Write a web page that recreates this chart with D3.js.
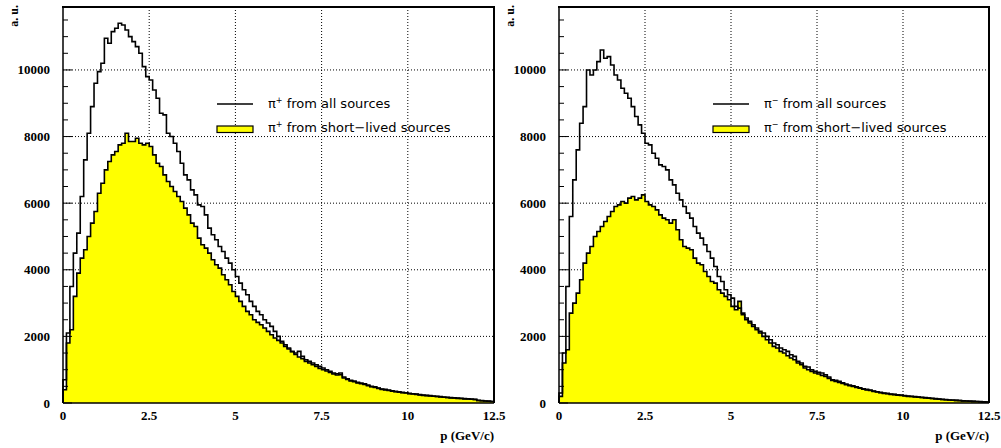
<!DOCTYPE html>
<html>
<head>
<meta charset="utf-8">
<script src="https://cdn.jsdelivr.net/npm/d3@7"></script>
<style>
  body { margin: 0; background: #fff; }
  svg { display: block; }
</style>
</head>
<body>
<div id="content"></div>
<script>
// momentum bins: 125 bins of 0.1 GeV/c from 0 to 12.5
const binWidth = 0.1;
const pMax = 12.5;

// pi+ (left pad)
const piPlusAll = [
  700, 2100, 3500, 4500, 5100, 6200, 7300, 8100, 8900, 9600,
  9950, 10200, 10950, 10800, 11150, 11250, 11400, 11350, 11200, 11000,
  10850, 10700, 10500, 10100, 9800, 9700, 9400, 9150, 8700, 8650,
  8100, 8000, 7800, 7550, 7200, 6850, 6700, 6400, 6250, 5950,
  5900, 5650, 5250, 5050, 4900, 4700, 4550, 4350, 4200, 4000,
  3800, 3600, 3400, 3250, 3050, 2900, 2750, 2650, 2500, 2400,
  2300, 2150, 2000, 1850, 1750, 1650, 1550, 1500, 1550, 1400,
  1300, 1250, 1200, 1150, 1100, 1050, 1000, 950, 900, 880,
  900, 780, 730, 680, 660, 620, 600, 580, 540, 500,
  490, 450, 420, 410, 390, 370, 350, 340, 320, 310,
  290, 280, 270, 250, 240, 230, 220, 210, 200, 190,
  180, 170, 160, 155, 145, 140, 130, 125, 115, 110,
  80, 70, 60, 55, 45
];
const piPlusShort = [
  400, 1800, 2200, 3200, 3900, 4350, 4600, 5000, 5400, 5750,
  6300, 6600, 7000, 7250, 7450, 7550, 7750, 7800, 8100, 7850,
  7850, 7950, 7800, 7750, 7800, 7700, 7450, 7200, 7100, 6850,
  6650, 6500, 6350, 6200, 6050, 5850, 5650, 5400, 5300, 4950,
  4750, 4650, 4500, 4300, 4150, 4050, 3850, 3700, 3550, 3350,
  3200, 3050, 2900, 2750, 2650, 2500, 2420, 2350, 2250, 2150,
  2050, 1950, 1880, 1800, 1700, 1620, 1540, 1460, 1380, 1330,
  1250, 1200, 1150, 1100, 1040, 1000, 960, 920, 870, 840,
  850, 750, 705, 665, 640, 600, 580, 560, 520, 490,
  470, 440, 410, 395, 375, 355, 340, 325, 310, 300,
  280, 270, 260, 240, 230, 222, 212, 202, 193, 183,
  174, 164, 155, 150, 140, 135, 125, 120, 111, 106,
  77, 67, 58, 53, 43
];

// pi- (right pad)
const piMinusAll = [
  300, 1500, 3500, 5600, 6700, 7600, 8400, 8900, 10000, 9850,
  10000, 10250, 10600, 10350, 10400, 10150, 9850, 9700, 9450, 9300,
  9150, 8900, 8600, 8350, 8100, 7800, 7750, 7500, 7350, 7150,
  7100, 7000, 6700, 6550, 6300, 6100, 5900, 5700, 5550, 5300,
  5100, 4950, 4750, 4550, 4350, 4100, 3800, 3650, 3400, 3250,
  3150, 2900, 2850, 2650, 2550, 2450, 2350, 2250, 2150, 2100,
  2000, 1900, 1800, 1750, 1650, 1600, 1550, 1450, 1400, 1250,
  1200, 1100, 1080, 1000, 950, 920, 900, 850, 780, 700,
  680, 650, 610, 570, 540, 520, 490, 460, 430, 410,
  390, 360, 340, 320, 300, 290, 270, 260, 245, 235,
  225, 210, 200, 190, 180, 170, 160, 150, 140, 130,
  120, 110, 100, 90, 85, 80, 75, 65, 60, 55,
  50, 45, 40, 35, 30
];
const piMinusShort = [
  200, 1200, 1600, 2700, 3000, 3300, 3700, 4200, 4500, 4700,
  5000, 5150, 5300, 5450, 5600, 5750, 5900, 5950, 6050, 6000,
  6150, 6200, 6100, 6150, 6250, 6050, 5950, 5900, 5800, 5650,
  5550, 5500, 5400, 5500, 5200, 4900, 4700, 4650, 4600, 4350,
  4200, 4150, 3950, 3800, 3650, 3600, 3400, 3300, 3200, 3100,
  2900, 2800, 3050, 2700, 2500, 2400, 2300, 2200, 2100, 2000,
  1900, 1800, 1700, 1650, 1550, 1500, 1420, 1350, 1300, 1200,
  1150, 1050, 1000, 950, 900, 870, 830, 800, 740, 680,
  650, 620, 590, 550, 520, 500, 470, 445, 415, 395,
  375, 350, 330, 310, 290, 280, 260, 250, 235, 225,
  215, 200, 195, 180, 175, 165, 155, 145, 135, 125,
  115, 105, 98, 88, 82, 78, 72, 63, 58, 52,
  48, 43, 38, 33, 28
];

const xTicks = [0, 2.5, 5, 7.5, 10, 12.5];
const xTickLabels = ["0", "2.5", "5", "7.5", "10", "12.5"];
const yTicks = [0, 2000, 4000, 6000, 8000, 10000];
const yMinorStep = 500;
const yMax = 11890;

const legendAll = "from all sources";
const legendShort = "from short\u2212lived sources";

//////////////////// drawing-area definition
const W = 1001, H = 448;
const plotTop = 7, plotBottom = 403;

const panels = [
  { x0: 63,  x1: 494, all: piPlusAll,  short: piPlusShort,  charge: "+" },
  { x0: 559, x1: 989, all: piMinusAll, short: piMinusShort, charge: "\u2212" }
];

const yScale = d3.scaleLinear().domain([0, yMax]).range([plotBottom, plotTop]);

const svg = d3.select("#content")
    .append("svg")
    .attr("width", W)
    .attr("height", H);

svg.append("rect").attr("width", W).attr("height", H).attr("fill", "#fff");

const serif = "'Liberation Serif', 'Times New Roman', serif";
const sans = "'DejaVu Sans', sans-serif";

// points for a step outline: starts and ends at the baseline
function stepPoints(values){
    const pts = [{ p: 0, v: 0 }];
    values.forEach((v, i) => pts.push({ p: i * binWidth, v: v }));
    pts.push({ p: pMax, v: 0 });
    return pts;
}

for (const pan of panels){
    const xScale = d3.scaleLinear().domain([0, pMax]).range([pan.x0, pan.x1]);
    const g = svg.append("g");

    // dotted grid
    g.selectAll(".vgrid").data(xTicks.filter(t => t > 0 && t < pMax))
        .enter().append("line")
        .attr("x1", d => xScale(d)).attr("x2", d => xScale(d))
        .attr("y1", plotTop).attr("y2", plotBottom)
        .attr("stroke", "#000").attr("stroke-width", 1)
        .attr("stroke-dasharray", "1,2");
    g.selectAll(".hgrid").data(yTicks.filter(t => t > 0))
        .enter().append("line")
        .attr("x1", pan.x0).attr("x2", pan.x1)
        .attr("y1", d => yScale(d)).attr("y2", d => yScale(d))
        .attr("stroke", "#000").attr("stroke-width", 1)
        .attr("stroke-dasharray", "1,2");

    // short-lived histogram, yellow filled
    const shortPts = stepPoints(pan.short);
    const area = d3.area()
        .x(d => xScale(d.p))
        .y0(plotBottom)
        .y1(d => yScale(d.v))
        .curve(d3.curveStepAfter);
    g.append("path").datum(shortPts)
        .attr("d", area)
        .attr("fill", "#ffff00");

    const line = d3.line()
        .x(d => xScale(d.p))
        .y(d => yScale(d.v))
        .curve(d3.curveStepAfter);
    g.append("path").datum(shortPts)
        .attr("d", line)
        .attr("fill", "none").attr("stroke", "#000").attr("stroke-width", 1.6);

    // all sources histogram
    g.append("path").datum(stepPoints(pan.all))
        .attr("d", line)
        .attr("fill", "none").attr("stroke", "#000").attr("stroke-width", 1.6);

    // y axis ticks (inward) and labels
    const minor = d3.range(0, yMax, yMinorStep);
    g.selectAll(".ytick").data(minor)
        .enter().append("line")
        .attr("x1", pan.x0)
        .attr("x2", d => pan.x0 + (d % 2000 === 0 ? 9 : 5))
        .attr("y1", d => yScale(d)).attr("y2", d => yScale(d))
        .attr("stroke", "#000").attr("stroke-width", 1);
    g.selectAll(".ylab").data(yTicks)
        .enter().append("text")
        .attr("x", pan.x0 - 13)
        .attr("y", d => yScale(d))
        .attr("dy", "0.35em")
        .attr("text-anchor", "end")
        .attr("font-family", serif).attr("font-weight", "bold")
        .attr("font-size", 13)
        .text(d => d);

    // x labels
    g.selectAll(".xlab").data(xTicks)
        .enter().append("text")
        .attr("x", d => xScale(d))
        .attr("y", 420)
        .attr("text-anchor", "middle")
        .attr("font-family", serif).attr("font-weight", "bold")
        .attr("font-size", 13)
        .text((d, i) => xTickLabels[i]);

    // frame
    g.append("line").attr("x1", pan.x0).attr("x2", pan.x0).attr("y1", plotTop).attr("y2", plotBottom)
        .attr("stroke", "#000").attr("stroke-width", 1.5);
    g.append("line").attr("x1", pan.x0).attr("x2", pan.x1).attr("y1", plotBottom).attr("y2", plotBottom)
        .attr("stroke", "#000").attr("stroke-width", 1.5);
    g.append("line").attr("x1", pan.x0 - 1).attr("x2", pan.x1 + 1).attr("y1", plotTop).attr("y2", plotTop)
        .attr("stroke", "#000").attr("stroke-width", 2);
    g.append("line").attr("x1", pan.x1).attr("x2", pan.x1).attr("y1", plotTop).attr("y2", plotBottom)
        .attr("stroke", "#000").attr("stroke-width", 2);

    // axis titles
    g.append("text")
        .attr("transform", "translate(" + (pan.x0 - 45) + ",5)rotate(-90)")
        .attr("text-anchor", "end")
        .attr("font-family", serif).attr("font-weight", "bold")
        .attr("font-size", 12)
        .text("a. u.");
    g.append("text")
        .attr("x", pan.x1).attr("y", 440)
        .attr("text-anchor", "end")
        .attr("font-family", serif).attr("font-weight", "bold")
        .attr("font-size", 13)
        .text("p (GeV/c)");

    // legend
    const lx = pan.x0 + 154, lw = 36, tx = pan.x0 + 205;
    g.append("line").attr("x1", lx).attr("x2", lx + lw).attr("y1", 104).attr("y2", 104)
        .attr("stroke", "#000").attr("stroke-width", 1.6);
    g.append("rect").attr("x", lx).attr("y", 126).attr("width", lw).attr("height", 6.5)
        .attr("fill", "#ffff00").attr("stroke", "#000").attr("stroke-width", 1.2);

    [[108, legendAll], [132, legendShort]].forEach(([ty, label]) => {
        const t = g.append("text")
            .attr("x", tx).attr("y", ty)
            .attr("font-family", sans).attr("font-size", 13)
            .attr("fill", "#000");
        t.append("tspan").text("\u03c0");
        t.append("tspan").attr("dy", -5).attr("font-size", 8).text(pan.charge);
        t.append("tspan").attr("dy", 5).text(" " + label);
    });
}
</script>
</body>
</html>
